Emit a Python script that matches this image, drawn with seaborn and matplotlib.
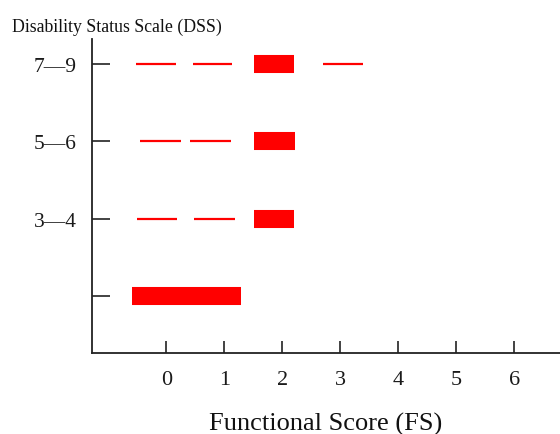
import matplotlib
matplotlib.use("Agg")
import matplotlib.pyplot as plt
import seaborn as sns
import pandas as pd

# ---- data ----
row_labels = ["", "3\u20144", "5\u20146", "7\u20149"]
row_pos = [0, 1, 2, 3]
x_ticks = [0, 1, 2, 3, 4, 5, 6]

seg_row   = [3, 3, 3, 3, 2, 2, 2, 1, 1, 1, 0]
seg_start = [-0.52, 0.47, 1.52, 2.71, -0.45, 0.41, 1.52, -0.50, 0.48, 1.52, -0.59]
seg_end   = [0.16, 1.14, 2.21, 3.40, 0.26, 1.12, 2.22, 0.19, 1.19, 2.21, 1.29]
seg_kind  = ["thin", "thin", "thick", "thin", "thin", "thin", "thick",
             "thin", "thin", "thick", "thick"]

rows = []
for i, (r, s, e, k) in enumerate(zip(seg_row, seg_start, seg_end, seg_kind)):
    rows.append({"seg": i, "fs": s, "row": r, "kind": k})
    rows.append({"seg": i, "fs": e, "row": r, "kind": k})
df = pd.DataFrame(rows)

sns.set_theme(style="ticks")
plt.rcParams["font.family"] = ["Liberation Serif", "DejaVu Serif"]
plt.rcParams["lines.solid_capstyle"] = "butt"

fig = plt.figure(figsize=(5.6, 4.35), dpi=100)
ax = fig.add_axes([92 / 560, 81 / 435, 1 - 92 / 560, (354 - 40) / 435])

sns.lineplot(data=df, x="fs", y="row", units="seg", estimator=None, sort=False,
             size="kind", sizes={"thin": 1.6, "thick": 13.0},
             color="#ff0000", legend=False, ax=ax)

ax.set_xlim(-1.28, 6.79)
ax.set_ylim(-0.73, 3.32)
ax.set_xticks(x_ticks)
ax.set_xticklabels([str(t) for t in x_ticks], fontsize=16)
ax.set_yticks(row_pos)
ax.set_yticklabels(row_labels, fontsize=15.5)
ax.tick_params(axis="x", direction="in", length=9, width=1.2, pad=12, colors="#222222")
ax.tick_params(axis="y", direction="in", length=13, width=1.2, pad=11, colors="#222222")
for t in ax.get_xticklabels() + ax.get_yticklabels():
    t.set_color("#1a1a1a")
sns.despine(ax=ax, top=True, right=True)
for s in ["left", "bottom"]:
    ax.spines[s].set_linewidth(1.3)
    ax.spines[s].set_color("#222222")

ax.set_xlabel("Functional Score (FS)", fontsize=19, labelpad=17, color="#111111")
ax.set_ylabel("")
fig.text(12 / 560, 1 - 27 / 435, "Disability Status Scale (DSS)", fontsize=12.8,
         va="center", ha="left", color="#111111")

fig.savefig("out.png", dpi=100)
